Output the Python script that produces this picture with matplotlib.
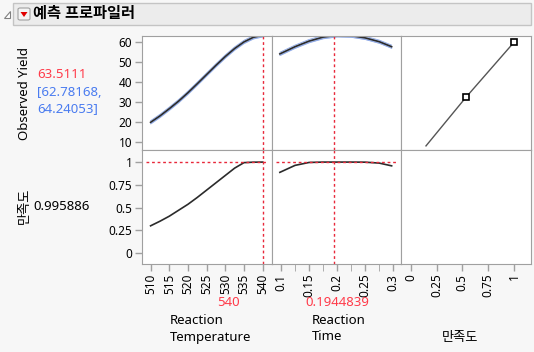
import matplotlib
matplotlib.use('Agg')
import matplotlib.pyplot as plt
from matplotlib.patches import Rectangle, Polygon, FancyBboxPatch
from matplotlib.ticker import MultipleLocator

plt.rcParams['font.family'] = ['Noto Sans', 'Noto Sans CJK KR', 'DejaVu Sans']

temp = [510, 512.5, 515, 517.5, 520, 522.5, 525, 527.5, 530, 532.5, 535, 537.5, 540]
yield_temp = [20.0, 23.2, 26.8, 30.6, 34.8, 39.3, 43.9, 48.5, 52.9, 56.9, 60.2, 62.5, 63.5]
d_temp = [0.30, 0.35, 0.405, 0.47, 0.535, 0.61, 0.69, 0.77, 0.85, 0.93, 0.99, 0.995, 0.996]

rtime = [0.098, 0.125, 0.15, 0.175, 0.2, 0.225, 0.25, 0.275, 0.297]
yield_time = [54.2, 57.8, 60.6, 62.6, 63.5, 63.3, 62.2, 60.3, 57.8]
d_time = [0.884, 0.96, 0.992, 0.996, 0.996, 0.996, 0.995, 0.985, 0.955]

band = 0.8
desir_x = [0.148, 0.535, 1.0]
desir_y = [8.2, 32.5, 60.0]

cur_temp = 540
cur_time = 0.1944839
pred = 63.5111
ci = (62.78168, 64.24053)
cur_d = 0.995886

W, H = 534, 352
fig = plt.figure(figsize=(W / 100, H / 100), dpi=100)
fig.patch.set_facecolor('#f7f7f7')

cols = [142, 272, 401, 531]
rows = [36, 150, 264]
axes = {}
for r in range(2):
    for c in range(3):
        x0, x1 = cols[c], cols[c + 1]
        y0, y1 = rows[r], rows[r + 1]
        ax = fig.add_axes([x0 / W, 1 - y1 / H, (x1 - x0) / W, (y1 - y0) / H])
        for s in ax.spines.values():
            s.set_color('#a0a0a0')
        ax.tick_params(colors='#a0a0a0', labelcolor='black', labelsize=8.5, length=5, width=1, pad=2)
        axes[r, c] = ax

red = '#e8283a'
line_c = '#2b2b2b'

# top row: yield
for c, (xs, ys, cur, xl) in enumerate([(temp, yield_temp, cur_temp, (507.7, 542.5)),
                                       (rtime, yield_time, cur_time, (0.084, 0.3137))]):
    ax = axes[0, c]
    lo = [v - band for v in ys]
    hi = [v + band for v in ys]
    ax.fill_between(xs, lo, hi, color='#b7c9f0', lw=0)
    ax.plot(xs, lo, color='#8aa6e6', lw=0.6)
    ax.plot(xs, hi, color='#8aa6e6', lw=0.6)
    ax.plot(xs, ys, color=line_c, lw=1.2)
    ax.axvline(cur, color=red, ls=(0, (2, 2)), lw=1)
    ax.axhline(pred, color=red, ls=(0, (2, 2)), lw=1)
    ax.set_xlim(*xl)

ax = axes[0, 2]
ax.plot(desir_x, desir_y, color='#555555', lw=1)
ax.plot(desir_x[1:], desir_y[1:], ls='none', marker='s', ms=4.5, mfc='white', mec='black', mew=1.2)
ax.set_xlim(-0.094, 1.165)

for c in range(3):
    axes[0, c].set_ylim(6.15, 63.15)
    axes[0, c].set_xticks([])
axes[0, 0].set_yticks([10, 20, 30, 40, 50, 60])
for c in (1, 2):
    axes[0, c].set_yticks([])

# bottom row: desirability
ax = axes[1, 0]
ax.plot(temp, d_temp, color=line_c, lw=1.2)
ax.set_xlim(507.7, 542.5)
ax.set_xticks([510, 515, 520, 525, 530, 535, 540])
ax = axes[1, 1]
ax.plot(rtime, d_time, color=line_c, lw=1.2)
ax.set_xlim(0.084, 0.3137)
ax.set_xticks([0.1, 0.15, 0.2, 0.25, 0.3])
ax.set_xticklabels(['0.1', '0.15', '0.2', '0.25', '0.3'])
ax.xaxis.set_minor_locator(MultipleLocator(0.025))
ax.tick_params(which='minor', length=5, color='#a0a0a0')
ax = axes[1, 2]
ax.set_xlim(-0.094, 1.165)
ax.set_xticks([0, 0.25, 0.5, 0.75, 1])
ax.set_xticklabels(['0', '0.25', '0.5', '0.75', '1'])

for c in range(3):
    axes[1, c].set_ylim(-0.117, 1.128)
    for lab in axes[1, c].get_xticklabels():
        lab.set_rotation(90)
axes[1, 0].set_yticks([0, 0.25, 0.5, 0.75, 1])
axes[1, 0].set_yticklabels(['0', '0.25', '0.5', '0.75', '1'])
for c in (1, 2):
    axes[1, c].set_yticks([])

for c, cur in ((0, cur_temp), (1, cur_time)):
    axes[1, c].axvline(cur, color=red, ls=(0, (2, 2)), lw=1)
    axes[1, c].axhline(cur_d, color=red, ls=(0, (2, 2)), lw=1, xmin=0.03, xmax=0.97)

# left side labels
fs = 9.5
fig.text(25 / W, 1 - 93 / H, 'Observed Yield', rotation=90, ha='center', va='center', fontsize=fs)
fig.text(37 / W, 1 - 74 / H, f'{pred}', color='#ff3b4a', ha='left', va='center', fontsize=fs)
fig.text(37 / W, 1 - 92 / H, f'[{ci[0]},', color='#4a7cf0', ha='left', va='center', fontsize=fs)
fig.text(37 / W, 1 - 109 / H, f'{ci[1]}]', color='#4a7cf0', ha='left', va='center', fontsize=fs)
fig.text(24 / W, 1 - 206 / H, '만족도', rotation=90, ha='center', va='center', fontsize=fs)
fig.text(33 / W, 1 - 206 / H, f'{cur_d}', ha='left', va='center', fontsize=fs)

# bottom labels
fig.text(228 / W, 1 - 303 / H, f'{cur_temp}', color='#ff3b4a', ha='center', va='center', fontsize=fs)
fig.text(337 / W, 1 - 303 / H, f'{cur_time}', color='#ff3b4a', ha='center', va='center', fontsize=fs)
fig.text(170 / W, 1 - 320 / H, 'Reaction', ha='left', va='center', fontsize=fs)
fig.text(170 / W, 1 - 337 / H, 'Temperature', ha='left', va='center', fontsize=fs)
fig.text(312 / W, 1 - 320 / H, 'Reaction', ha='left', va='center', fontsize=fs)
fig.text(312 / W, 1 - 337 / H, 'Time', ha='left', va='center', fontsize=fs)
fig.text(460 / W, 1 - 337 / H, '만족도', ha='center', va='center', fontsize=fs)

# title bar
fig.patches.append(Rectangle((13 / W, 1 - 25 / H), (531 - 13) / W, 22 / H, transform=fig.transFigure,
                             facecolor='#ececec', edgecolor='#c4c4c4', lw=1))
fig.patches.append(Polygon([(4 / W, 1 - 18 / H), (10 / W, 1 - 18 / H), (10 / W, 1 - 11 / H)], closed=True,
                           transform=fig.transFigure, facecolor='white', edgecolor='#808080', lw=0.8))
fig.patches.append(FancyBboxPatch((18 / W, 1 - 20 / H), 12 / W, 12 / H, boxstyle='round,pad=0,rounding_size=0.004',
                                  transform=fig.transFigure, facecolor='#f4f4f4', edgecolor='#a0a0a0', lw=0.8))
fig.patches.append(Polygon([(20.5 / W, 1 - 12 / H), (27.5 / W, 1 - 12 / H), (24 / W, 1 - 17 / H)], closed=True,
                           transform=fig.transFigure, facecolor='#e00000', edgecolor='none'))
fig.text(33 / W, 1 - 14 / H, '예측 프로파일러', ha='left', va='center', fontsize=11, fontweight='bold')

fig.savefig('out.png', dpi=100, facecolor=fig.get_facecolor())
